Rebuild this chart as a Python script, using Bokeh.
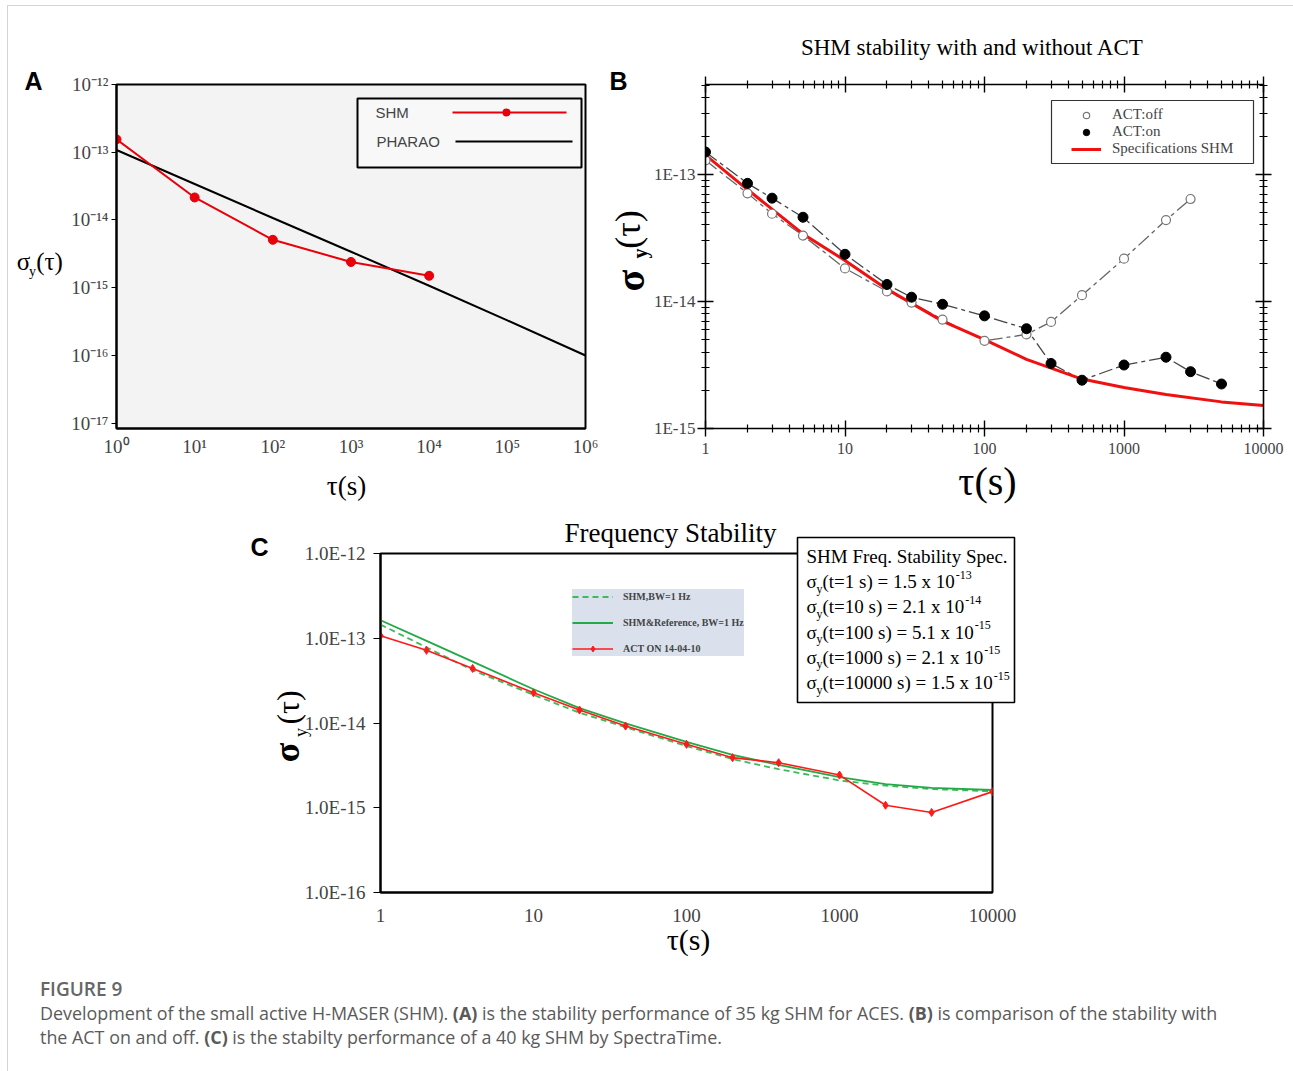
import math
from bokeh.plotting import figure
from bokeh.models import (Label, BoxAnnotation, Legend, LegendItem, FixedTicker,
                          CustomJSTickFormatter, LogAxis, Range1d, Spacer, Div, GridBox)
from bokeh.layouts import row, column
from bokeh.embed import file_html
from bokeh.resources import INLINE

# ---------------- data: panel A ----------------
a_tau = [1, 10, 100, 1000, 10000]
a_shm = [1.55e-13, 2.15e-14, 5.1e-15, 2.4e-15, 1.5e-15]
a_pharao_tau = [1, 10, 100, 1e3, 1e4, 1e5, 1e6]
a_pharao = [1.08e-13, 3.4e-14, 1.07e-14, 3.4e-15, 1.07e-15, 3.3e-16, 1.0e-16]
a_xticks = [1, 10, 100, 1e3, 1e4, 1e5, 1e6]
a_yticks = [1e-17, 1e-16, 1e-15, 1e-14, 1e-13, 1e-12]

# ---------------- data: panel B ----------------
b_tau_off = [1, 2, 3, 5, 10, 20, 30, 50, 100, 200, 300, 500, 1000, 2000, 3000]
b_off = [1.29e-13, 7.1e-14, 4.9e-14, 3.3e-14, 1.82e-14, 1.2e-14, 9.8e-15, 7.2e-15,
         4.9e-15, 5.5e-15, 6.9e-15, 1.12e-14, 2.17e-14, 4.37e-14, 6.4e-14]
b_tau_on = [1, 2, 3, 5, 10, 20, 30, 50, 100, 200, 300, 500, 1000, 2000, 3000, 5000]
b_on = [1.5e-13, 8.5e-14, 6.5e-14, 4.6e-14, 2.35e-14, 1.36e-14, 1.08e-14, 9.5e-15,
        7.7e-15, 6.1e-15, 3.25e-15, 2.4e-15, 3.16e-15, 3.64e-15, 2.8e-15, 2.24e-15]
b_spec_tau = [1, 2, 5, 10, 20, 50, 100, 200, 500, 1000, 2000, 5000, 10000]
b_spec = [1.42e-13, 7.6e-14, 3.4e-14, 2.1e-14, 1.25e-14, 7.0e-15, 5.0e-15, 3.5e-15,
          2.45e-15, 2.1e-15, 1.85e-15, 1.62e-15, 1.52e-15]
b_xticks = [1, 10, 100, 1000, 10000]
b_yticks = [1e-15, 1e-14, 1e-13]

# ---------------- data: panel C ----------------
c_tau = [1, 2, 4, 10, 20, 40, 100, 200, 400, 1000, 2000, 4000, 10000]
c_act = [1.07e-13, 7.2e-14, 4.4e-14, 2.27e-14, 1.42e-14, 9.2e-15, 5.6e-15, 3.9e-15,
         3.4e-15, 2.43e-15, 1.07e-15, 8.8e-16, 1.55e-15]
c_ref = [1.63e-13, 9.3e-14, 5.3e-14, 2.5e-14, 1.5e-14, 9.9e-15, 6.0e-15, 4.2e-15,
         3.2e-15, 2.3e-15, 1.9e-15, 1.72e-15, 1.62e-15]
c_shm = [1.45e-13, 7.8e-14, 4.2e-14, 2.15e-14, 1.32e-14, 8.9e-15, 5.35e-15, 3.75e-15,
         2.85e-15, 2.1e-15, 1.82e-15, 1.66e-15, 1.56e-15]
c_xticks = [1, 10, 100, 1000, 10000]
c_yticks = [1e-16, 1e-15, 1e-14, 1e-13, 1e-12]
spec_t = ["1", "10", "100", "1000", "10000"]
spec_v = ["1.5", "2.1", "5.1", "2.1", "1.5"]
spec_e = ["-13", "-14", "-15", "-15", "-15"]

SERIF = "Liberation Serif"
SANS = "Liberation Sans"
OX, OY = 8, 6          # page position of the layout's content
W, H = 1282, 1062      # content size

SUP_JS = """
const e = Math.round(Math.log10(tick));
const m = {"-":"\u207b","0":"\u2070","1":"\u00b9","2":"\u00b2","3":"\u00b3","4":"\u2074",
           "5":"\u2075","6":"\u2076","7":"\u2077","8":"\u2078","9":"\u2079"};
return "10" + String(e).split("").map(c => m[c]).join("");
"""


def sbox(p, fx, fy, L, R, T, B, fill="white", line="black", lw=1.0, radius=0, units="screen"):
    p.add_layout(BoxAnnotation(left=fx(L), right=fx(R), top=fy(T), bottom=fy(B),
                               left_units=units, right_units=units,
                               top_units=units, bottom_units=units,
                               fill_color=fill, fill_alpha=1.0, line_color=line,
                               line_alpha=1.0, line_width=lw, border_radius=radius,
                               level="annotation"))


def slab(p, fx, fy, X, Y, text, size, font=SANS, align="left"):
    p.add_layout(Label(x=fx(X), y=fy(Y), x_units="screen", y_units="screen", text=text,
                       text_font=font, text_font_size=f"{size}px",
                       text_align=align, text_baseline="middle"))


# ================= Panel A =================
pa = figure(width=595, height=492, x_axis_type="log", y_axis_type="log",
            x_range=Range1d(1, 1e6), y_range=Range1d(1e-17 / 10 ** 0.078, 1e-12),
            output_backend="svg", toolbar_location=None, title=None,
            min_border_left=108, min_border_right=18, min_border_top=78, min_border_bottom=67)
pa.background_fill_color = "#f3f3f3"
pa.outline_line_color = "black"
pa.outline_line_width = 2
pa.grid.visible = False
for ax in (pa.xaxis[0], pa.yaxis[0]):
    ax.axis_line_width = 2
    ax.major_label_text_font = SERIF
    ax.major_label_text_font_size = "19px"
    ax.minor_tick_line_color = None
    ax.major_tick_in = 0
    ax.formatter = CustomJSTickFormatter(code=SUP_JS)
pa.xaxis.ticker = FixedTicker(ticks=a_xticks)
pa.yaxis.ticker = FixedTicker(ticks=a_yticks)
pa.xaxis.major_tick_out = 0
pa.xaxis.major_label_standoff = 7
pa.yaxis.major_tick_out = 5
pa.yaxis.major_label_standoff = 3

pa.line(a_pharao_tau, a_pharao, line_color="black", line_width=2)
pa.line(a_tau, a_shm, line_color="#e8000b", line_width=2)
pa.scatter(a_tau, a_shm, size=9, fill_color="#e8000b", line_color="#e8000b")

fxa = lambda X: X - 116
fya = lambda Y: 431 - Y
# legend (label before sample line)
sbox(pa, fxa, fya, 357, 581, 101, 170, fill="#f8f8f8", line="black", lw=2)
slab(pa, fxa, fya, 375, 115, "SHM", 15)
slab(pa, fxa, fya, 376, 144, "PHARAO", 15)
sbox(pa, fxa, fya, 452, 566, 114, 116, fill="#e8000b", line=None, lw=0)
sbox(pa, fxa, fya, 502, 510, 111, 119, fill="#e8000b", line=None, lw=0, radius=4)
sbox(pa, fxa, fya, 455, 572, 143, 145, fill="black", line=None, lw=0)

# ================= Panel B =================
pb = figure(width=687, height=492, x_axis_type="log", y_axis_type="log",
            x_range=Range1d(1, 10000), y_range=Range1d(1e-15, 5.1e-13),
            output_backend="svg", toolbar_location=None, title=None,
            min_border_left=102, min_border_right=27, min_border_top=78, min_border_bottom=70)
pb.outline_line_color = None
pb.grid.visible = False

bx_minor = [m * 10 ** k for k in range(0, 4) for m in range(2, 10)]
by_minor = [m * 10.0 ** k for k in range(-15, -12) for m in range(2, 10) if m * 10.0 ** k < 5.1e-13]


def style_b(ax, ticks, minor, fmt):
    ax.ticker = FixedTicker(ticks=ticks, minor_ticks=minor)
    ax.formatter = CustomJSTickFormatter(code=fmt)
    ax.axis_line_width = 1.6
    ax.major_tick_in = 8
    ax.major_tick_out = 8
    ax.minor_tick_in = 4
    ax.minor_tick_out = 4
    ax.major_tick_line_width = 1.4
    ax.minor_tick_line_width = 1.2
    ax.major_label_text_font = SERIF


style_b(pb.xaxis[0], b_xticks, bx_minor, "return String(Math.round(tick));")
style_b(pb.yaxis[0], b_yticks, by_minor, 'return "1E" + Math.round(Math.log10(tick));')
pb.xaxis.major_label_text_font_size = "16px"
pb.yaxis.major_label_text_font_size = "17px"
pb.xaxis.major_label_standoff = 6
pb.yaxis.major_label_standoff = 2
top_ax = LogAxis()
style_b(top_ax, b_xticks, bx_minor, "return '';")
pb.add_layout(top_ax, "above")
right_ax = LogAxis()
style_b(right_ax, b_yticks, by_minor, "return '';")
pb.add_layout(right_ax, "right")

pb.line(b_tau_off, b_off, line_color="#666666", line_width=1.3, line_dash="14 4 4 4")
pb.line(b_tau_on, b_on, line_color="#444444", line_width=1.3, line_dash="14 4 4 4")
r_spec = pb.line(b_spec_tau, b_spec, line_color="#f01010", line_width=3)
r_off = pb.scatter(b_tau_off, b_off, size=9, fill_color="white", line_color="#777777", line_width=1.2)
r_on = pb.scatter(b_tau_on, b_on, size=10, fill_color="black", line_color="black")

fxb = lambda X: X - 705
fyb = lambda Y: 428 - Y
sbox(pb, fxb, fyb, 1051, 1253, 100, 163, fill="white", line="#333333", lw=1.2)
leg_b = Legend(items=[LegendItem(label="ACT:off", renderers=[r_off]),
                      LegendItem(label="ACT:on", renderers=[r_on]),
                      LegendItem(label="Specifications SHM", renderers=[r_spec])],
               location=(fxb(1071), fyb(157)), padding=0, margin=0, spacing=0,
               label_height=16, glyph_height=16, glyph_width=30, label_standoff=11,
               label_text_font=SERIF, label_text_font_size="15px",
               border_line_color=None, background_fill_alpha=0)
pb.add_layout(leg_b)

# ================= Panel C =================
pc = figure(width=780, height=460, x_axis_type="log", y_axis_type="log",
            x_range=Range1d(1, 10000), y_range=Range1d(1e-16, 1e-12),
            output_backend="svg", toolbar_location=None, title=None,
            min_border_left=130, min_border_right=38, min_border_top=55, min_border_bottom=66)
pc.outline_line_color = "black"
pc.outline_line_width = 2
pc.grid.visible = False
pc.xaxis.ticker = FixedTicker(ticks=c_xticks)
pc.yaxis.ticker = FixedTicker(ticks=c_yticks)
pc.xaxis.formatter = CustomJSTickFormatter(code="return String(Math.round(tick));")
pc.yaxis.formatter = CustomJSTickFormatter(code='return "1.0E" + Math.round(Math.log10(tick));')
for ax in (pc.xaxis[0], pc.yaxis[0]):
    ax.axis_line_width = 2
    ax.minor_tick_line_color = None
    ax.major_tick_in = 0
    ax.major_label_text_font = SERIF
    ax.major_label_text_font_size = "19px"
pc.xaxis.major_tick_out = 0
pc.xaxis.major_label_standoff = 16
pc.yaxis.major_tick_out = 7
pc.yaxis.major_label_standoff = 8

r_shm = pc.line(c_tau, c_shm, line_color="#3dbb5c", line_width=1.8, line_dash="6 4")
r_ref = pc.line(c_tau, c_ref, line_color="#22aa48", line_width=1.8)
r_act = pc.line(c_tau, c_act, line_color="#ff1a1a", line_width=1.6)
r_actm = pc.scatter(c_tau, c_act, marker="diamond", size=8, fill_color="#ff1a1a", line_color="#ff1a1a")

fxc = lambda X: X - 380
fyc = lambda Y: 892 - Y
leg_c = Legend(items=[LegendItem(label="SHM,BW=1 Hz", renderers=[r_shm]),
                      LegendItem(label="SHM&Reference, BW=1 Hz", renderers=[r_ref]),
                      LegendItem(label="ACT ON 14-04-10", renderers=[r_act, r_actm])],
               location=(fxc(572), fyc(656)), padding=7, margin=0, spacing=11,
               label_height=15, glyph_height=15, glyph_width=41, label_standoff=10,
               label_text_font=SERIF, label_text_font_size="10px", label_text_font_style="bold",
               border_line_color=None, background_fill_color="#dbe1ec", background_fill_alpha=1)
pc.add_layout(leg_c)

# ================= overlay for texts outside the plot frames =================
ov = figure(width=W, height=H, x_range=Range1d(0, W), y_range=Range1d(H, 0),
            x_axis_location=None, y_axis_location=None, toolbar_location=None,
            output_backend="svg", title=None, min_border=0,
            min_border_left=0, min_border_right=0, min_border_top=0, min_border_bottom=0)
ov.background_fill_color = None
ov.border_fill_color = None
ov.outline_line_color = None
ov.grid.visible = False


def olab(X, Y, text, size, font=SERIF, style="normal", align="center", angle=0.0):
    ov.add_layout(Label(x=X - OX, y=Y - OY, text=text, text_font=font,
                        text_font_size=f"{size}px", text_font_style=style,
                        text_align=align, text_baseline="middle", angle=angle,
                        text_color="black"))


ident_x = lambda X: X - OX
ident_y = lambda Y: Y - OY

# panel A texts
olab(33, 80, "A", 25, font=SANS, style="bold")
olab(23, 261, "\u03c3", 25)
olab(32, 271, "y", 14)
olab(49, 261, "(\u03c4)", 25)
olab(346, 485, "\u03c4(s)", 27)
# panel B texts
olab(972, 47, "SHM stability with and without ACT", 23)
olab(618, 80, "B", 25, font=SANS, style="bold")
olab(630, 280, "\u03c3", 40, style="bold", angle=math.pi / 2)
olab(639, 253, "y", 20, style="bold", angle=math.pi / 2)
olab(627, 229, "(\u03c4)", 36, angle=math.pi / 2)
olab(987, 481, "\u03c4(s)", 40)
# panel C texts
olab(670, 532, "Frequency Stability", 27)
olab(259, 546, "C", 25, font=SANS, style="bold")
olab(286, 752, "\u03c3", 36, style="bold", angle=math.pi / 2)
olab(300, 732, "y", 18, angle=math.pi / 2)
olab(287, 707, "(\u03c4)", 32, angle=math.pi / 2)
olab(688, 939, "\u03c4(s)", 30)
# spec box of panel C
sbox(ov, ident_x, ident_y, 797, 1014, 537, 702, fill="white", line="black", lw=1.6, units="data")
olab(806, 556, "SHM Freq. Stability Spec.", 19, align="left")
TW = {"(": .333, ")": .333, "t": .278, "=": .564, " ": .25, "s": .389, ".": .25, "x": .5}
for i in range(len(spec_t)):
    yc = 581 + 25.3 * i
    main = f"(t={spec_t[i]} s) = {spec_v[i]} x 10"
    w = sum(TW.get(ch, .5) for ch in main) * 19
    olab(806, yc, "\u03c3", 19, align="left")
    olab(816, yc + 7, "y", 12, align="left")
    olab(822, yc, main, 19, align="left")
    olab(822 + w + 1, yc - 7, spec_e[i], 12, align="left")

caption = Div(width=W, height=110, text="""
<div style="font-family:'Open Sans',sans-serif;padding:14px 0 0 27px;color:#5a5a5a;">
<div style="font-size:19px;font-weight:600;color:#666;line-height:24px;">FIGURE 9</div>
<div style="font-size:17.9px;line-height:24px;white-space:nowrap;">Development of the small active H-MASER (SHM). <b>(A)</b> is the stability performance of 35 kg SHM for ACES. <b>(B)</b> is comparison of the stability with<br>the ACT on and off. <b>(C)</b> is the stabilty performance of a 40 kg SHM by SpectraTime.</div>
</div>""")

main = column(row(pa, pb), row(Spacer(width=242, height=460), pc), caption)
root = GridBox(children=[(main, 0, 0), (ov, 0, 0)], margin=(5, 0, 0, 7),
               styles={"border": "1px solid #d4d4d4"})

open("out.html", "w").write(file_html(root, INLINE))
